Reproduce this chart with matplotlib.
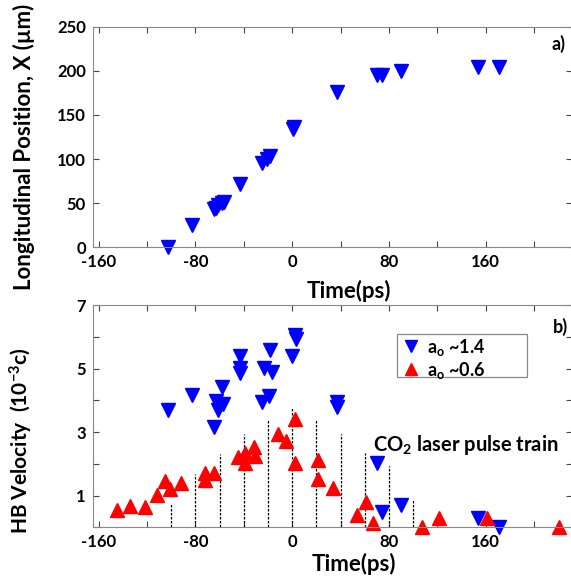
import matplotlib
matplotlib.use("Agg")
import matplotlib.pyplot as plt
from matplotlib.patches import Rectangle

plt.rcParams['font.family'] = ['Lato', 'DejaVu Sans']
plt.rcParams['font.weight'] = 'bold'
plt.rcParams['mathtext.fontset'] = 'custom'
plt.rcParams['mathtext.rm'] = 'Lato:bold'
plt.rcParams['mathtext.it'] = 'Lato:bold'
plt.rcParams['mathtext.bf'] = 'Lato:bold'

# ---- Panel a) longitudinal position ----
pos_time = [-103, -83, -65, -63, -61, -58, -56, -43, -25, -21, -18, 0.5, 1.5, 37, 70, 74, 90, 154, 171]
pos_x = [0, 25, 43, 45, 48, 50, 51, 72, 95, 100, 104, 134, 136, 176, 195, 195, 200, 204, 204]

# ---- Panel b) HB velocity ----
hi_time = [-103, -83, -65, -63, -61, -58, -57, -43, -43, -43, -23, -18, -17, -25, -19, 2, 3, 0,
           37, 37, 70, 74, 90, 154, 171]
hi_vel = [3.68, 4.17, 3.17, 3.99, 3.68, 4.42, 3.89, 5.38, 5.02, 4.86, 5.02, 5.59, 4.88, 3.96, 4.14,
          6.07, 5.93, 5.38, 3.96, 3.80, 2.02, 0.49, 0.70, 0.28, 0.0]

lo_time = [-145, -134, -122, -112, -105, -101, -92, -72, -72, -65, -45, -39, -39, -32, -31,
           -12, -5, 2, 2, 21, 21, 34, 54, 61, 67, 107, 121, 161, 221]
lo_vel = [0.55, 0.67, 0.65, 1.02, 1.47, 1.20, 1.41, 1.70, 1.49, 1.72, 2.21, 2.33, 2.02, 2.54, 2.23,
          2.94, 2.73, 3.42, 2.02, 2.12, 1.51, 1.23, 0.39, 0.79, 0.13, 0.02, 0.28, 0.28, 0.02]

pulse_time = [-100, -80, -60, -40, -20, 0, 20, 40, 60, 80, 100]
pulse_height = [0.76, 1.68, 2.31, 2.94, 3.42, 3.79, 3.42, 2.94, 2.33, 1.93, 0.88]

xticks = [-160, -120, -80, -40, 0, 40, 80, 120, 160, 200]
xticklabels = ['-160', '', '-80', '', '0', '', '80', '', '160', '']

BLUE = '#0000ff'
RED = '#ff0000'

fig = plt.figure(figsize=(5.71, 5.82), dpi=100)
W, H = 571.0, 582.0

def axes_px(left, top, right, bottom):
    return fig.add_axes([left / W, 1 - bottom / H, (right - left) / W, (bottom - top) / H])

AW = 478.8
ax1 = axes_px(92.7, 26.7, 571.5, 247.3)
ax2 = axes_px(92.7, 305.0, 571.5, 527.3)
H1, H2 = 220.6, 222.3

for ax in (ax1, ax2):
    ax.set_xlim(-165, 231)
    ax.set_xticks(xticks)
    ax.set_xticklabels(xticklabels)
    ax.tick_params(direction='in', top=True, right=True, length=4, width=0.8,
                   labelsize=12, colors='#444444', labelcolor='black', pad=5)
    for sp in ax.spines.values():
        sp.set_color('#888888')
        sp.set_linewidth(0.8)

# Panel a
ax1.plot(pos_time, pos_x, linestyle='none', marker='v', ms=9.5, color=BLUE, clip_on=False)
ax1.set_ylim(0, 250)
ax1.set_yticks([0, 50, 100, 150, 200, 250])
ax1.set_xlabel('Time(ps)', fontsize=16, fontweight='bold')
ax1.xaxis.set_label_coords((349 - 92.7) / AW, -(280 - 247.3) / H1)
ax1.set_ylabel('Longitudinal Position, X (\u00b5m)', fontsize=16, fontweight='bold')
ax1.yaxis.set_label_coords(-(92.7 - 35) / AW, (247.3 - 147) / H1)
ax1.text((559 - 92.7) / AW, (247.3 - 44) / H1, 'a)', transform=ax1.transAxes,
         ha='center', va='center', fontsize=13, fontweight='bold')

# Panel b
ax2.vlines(pulse_time, 0, pulse_height, colors='black', linestyles=(0, (2, 1.2)), linewidth=0.9)
h1, = ax2.plot(hi_time, hi_vel, linestyle='none', marker='v', ms=9.5, color=BLUE, clip_on=False,
               label=r'a$_\mathregular{o}$ ~1.4')
h2, = ax2.plot(lo_time, lo_vel, linestyle='none', marker='^', ms=9.5, color=RED, clip_on=False,
               label=r'a$_\mathregular{o}$ ~0.6')
ax2.set_ylim(0, 7)
ax2.set_yticks([0, 1, 2, 3, 4, 5, 6, 7])
ax2.set_yticklabels(['', '1', '', '3', '', '5', '', '7'])
ax2.set_xlabel('Time(ps)', fontsize=16, fontweight='bold')
ax2.xaxis.set_label_coords((354 - 92.7) / AW, -(553 - 527.3) / H2)
ax2.set_ylabel(r'HB Velocity  (10$^\mathregular{-3}$c)', fontsize=15, fontweight='bold')
ax2.yaxis.set_label_coords(-(92.7 - 35) / AW, (527.3 - 441) / H2)
ax2.text((560 - 92.7) / AW, (527.3 - 327) / H2, 'b)', transform=ax2.transAxes,
         ha='center', va='center', fontsize=13, fontweight='bold')
ax2.text((466 - 92.7) / AW, (527.3 - 445) / H2, r'CO$_\mathregular{2}$ laser pulse train',
         transform=ax2.transAxes, ha='center', va='center', fontsize=14.5, fontweight='bold')

# legend box (drawn as a patch to match its wide right padding)
ax2.add_patch(Rectangle(((396.7 - 92.7) / AW, (527.3 - 377.3) / H2), 130 / AW, 43.3 / H2,
                        transform=ax2.transAxes, facecolor='white', edgecolor='#888888',
                        linewidth=0.9, zorder=4))
leg = ax2.legend(handles=[h1, h2], loc='upper left',
                 bbox_to_anchor=((401 - 92.7) / AW, (527.3 - 335) / H2),
                 frameon=False, fontsize=13,
                 handlelength=0.9, handletextpad=0.45, borderpad=0.1, labelspacing=0.1,
                 borderaxespad=0, markerscale=0.9)
leg.set_zorder(5)

fig.savefig('out.png', dpi=100)
